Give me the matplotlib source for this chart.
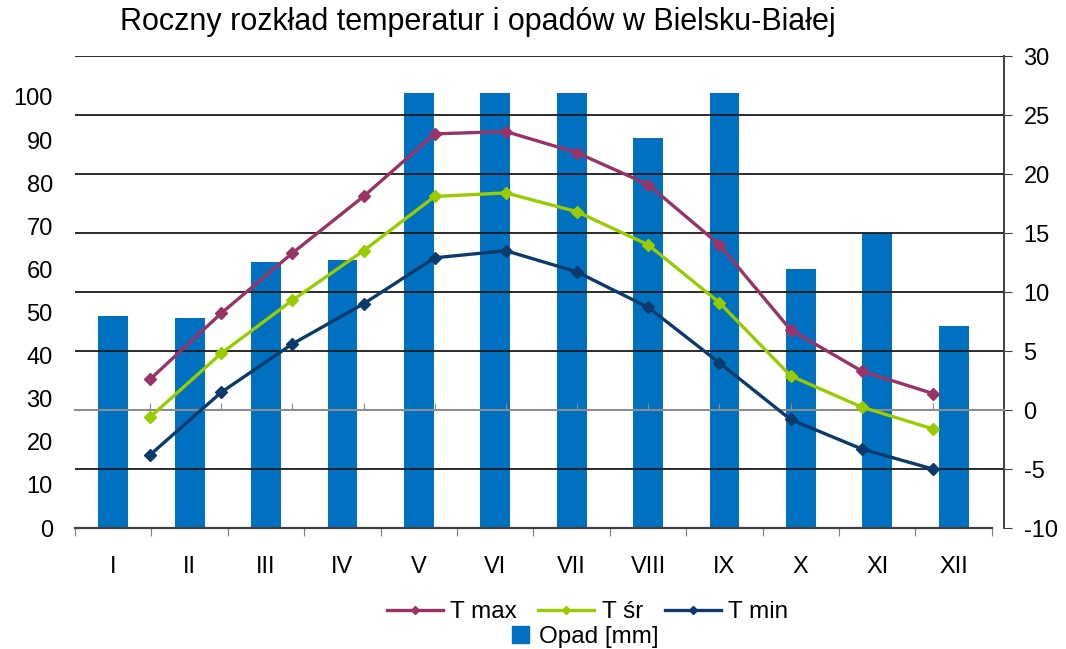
import numpy as np
import matplotlib
matplotlib.use('Agg')
import matplotlib.pyplot as plt

plt.rcParams['font.family'] = ['Liberation Sans', 'DejaVu Sans']
plt.rcParams['axes.unicode_minus'] = False

months = ['I', 'II', 'III', 'IV', 'V', 'VI', 'VII', 'VIII', 'IX', 'X', 'XI', 'XII']
opad = [49.2, 48.7, 61.7, 62.2, 101, 101, 101, 90.5, 101, 60.1, 68.4, 46.9]
t_max = [2.6, 8.2, 13.3, 18.1, 23.4, 23.6, 21.8, 19.1, 14.0, 6.8, 3.3, 1.4]
t_sr = [-0.6, 4.8, 9.3, 13.5, 18.1, 18.4, 16.8, 14.0, 9.1, 2.9, 0.25, -1.6]
t_min = [-3.8, 1.5, 5.6, 9.0, 12.9, 13.5, 11.7, 8.7, 4.0, -0.8, -3.3, -5.0]
opad_ticks = list(range(0, 101, 10))
temp_ticks = list(range(-10, 31, 5))

fig = plt.figure(figsize=(10.66, 6.49), dpi=100)
rect = [0.0704, 0.1864, 0.8715, 0.7273]

# opady - slupki
ax = fig.add_axes(rect)
x = np.arange(len(months))
ax.bar(x, opad, width=0.39, color='#0070c0', zorder=1)
ax.set_xlim(-0.5, 11.66)
ax.set_ylim(0, 109.5)
ax.set_yticks(opad_ticks)
ax.tick_params(axis='y', length=0, pad=16, labelsize=17)
ax.set_xticks(np.arange(-0.5, 12, 1))
ax.set_xticklabels([])
ax.set_xticks(x, minor=True)
ax.set_xticklabels(months, minor=True)
ax.tick_params(axis='x', which='major', direction='out', length=6, color='#7f7f7f')
ax.tick_params(axis='x', which='minor', length=0, pad=20, labelsize=17)
for s in ['left', 'right', 'top']:
    ax.spines[s].set_visible(False)
ax.spines['bottom'].set_bounds(-0.5, 11.5)
ax.spines['bottom'].set_color('#404040')
ax.spines['bottom'].set_linewidth(1.6)

# temperatury - linie
ax2 = fig.add_axes(rect)
ax2.patch.set_visible(False)
ax2.set_xlim(-1.054, 12.0)
ax2.set_ylim(-10, 30)
ax2.yaxis.tick_right()
ax2.set_yticks(temp_ticks)
ax2.tick_params(axis='y', direction='out', length=6, pad=8, labelsize=17, color='#404040')
for v in temp_ticks[1:]:
    if v != 0:
        ax2.axhline(v, color='#1a1a1a', lw=1.3, zorder=1)
ax2.spines['left'].set_visible(False)
ax2.spines['top'].set_visible(False)
ax2.spines['right'].set_color('#404040')
ax2.spines['right'].set_linewidth(1.4)
ax2.spines['bottom'].set_position(('data', 0))
ax2.spines['bottom'].set_color('#8c8c8c')
ax2.spines['bottom'].set_linewidth(1.5)
ax2.set_xticks(x)
ax2.set_xticklabels([])
ax2.tick_params(axis='x', direction='in', length=5, color='#8c8c8c')

l1, = ax2.plot(x, t_max, color='#993366', lw=2.4, marker='D', ms=6.5, label='T max', zorder=3)
l2, = ax2.plot(x, t_sr, color='#99cc00', lw=2.4, marker='D', ms=6.5, label='T śr', zorder=3)
l3, = ax2.plot(x, t_min, color='#0c3a6b', lw=2.4, marker='D', ms=6.5, label='T min', zorder=3)

fig.text(0.448, 0.966, 'Roczny rozkład temperatur i opadów w Bielsku-Białej',
         ha='center', va='center', fontsize=22)

leg1 = fig.legend(handles=[l1, l2, l3], loc='center', bbox_to_anchor=(0.551, 0.057),
                  ncol=3, frameon=False, fontsize=17.5, handlelength=2.3,
                  handletextpad=0.3, columnspacing=0.9, borderpad=0, markerscale=0.7)
bar_handle = plt.Rectangle((0, 0), 1, 1, color='#0070c0')
leg2 = fig.legend(handles=[bar_handle], labels=['Opad [mm]'], loc='center',
                  bbox_to_anchor=(0.549, 0.019), frameon=False, fontsize=17.5,
                  handlelength=0.7, handleheight=0.7, handletextpad=0.4, borderpad=0)

fig.savefig('out.png', dpi=100)
